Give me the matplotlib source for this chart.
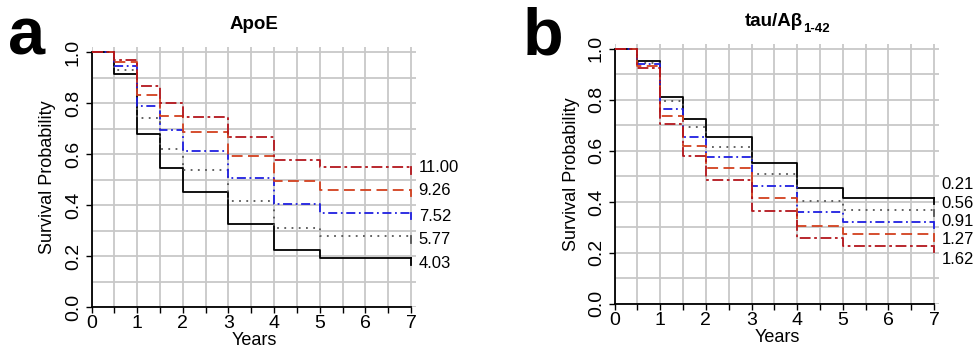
import matplotlib
matplotlib.use("Agg")
import matplotlib.pyplot as plt
from matplotlib.ticker import MultipleLocator

plt.rcParams['font.family'] = ['Liberation Sans', 'DejaVu Sans']

# Data
times = [0, 0.5, 1, 1.5, 2, 3, 4, 5, 7]

apoe_labels = ["4.03", "5.77", "7.52", "9.26", "11.00"]
apoe_curves = [
    [1.0, 0.915, 0.678, 0.545, 0.450, 0.327, 0.225, 0.192],
    [1.0, 0.930, 0.741, 0.621, 0.536, 0.417, 0.310, 0.277],
    [1.0, 0.946, 0.790, 0.693, 0.613, 0.506, 0.405, 0.369],
    [1.0, 0.960, 0.833, 0.750, 0.686, 0.591, 0.493, 0.460],
    [1.0, 0.970, 0.868, 0.800, 0.745, 0.665, 0.578, 0.548],
]
apoe_label_y = [0.172, 0.266, 0.357, 0.459, 0.549]

tau_labels = ["0.21", "0.56", "0.91", "1.27", "1.62"]
tau_curves = [
    [1.0, 0.953, 0.813, 0.725, 0.656, 0.554, 0.454, 0.417],
    [1.0, 0.944, 0.794, 0.695, 0.617, 0.510, 0.404, 0.369],
    [1.0, 0.940, 0.765, 0.656, 0.578, 0.463, 0.359, 0.323],
    [1.0, 0.933, 0.737, 0.620, 0.532, 0.415, 0.307, 0.273],
    [1.0, 0.924, 0.706, 0.580, 0.486, 0.366, 0.260, 0.227],
]
tau_label_y = [0.467, 0.395, 0.322, 0.251, 0.176]

# Styles (lowest to highest risk group)
styles = [
    dict(color='black', linestyle='-'),
    dict(color='#555555', linestyle=(0, (1, 3))),
    dict(color='#1f1fe0', linestyle=(0, (5, 2, 1, 2))),
    dict(color='#d2401e', linestyle=(0, (6, 3))),
    dict(color='#b3161c', linestyle=(0, (6, 2, 1.5, 2))),
]

fig = plt.figure(figsize=(9.76, 3.53), dpi=100)
ax_a = fig.add_axes([0.0938, 0.130, 0.3329, 0.737])
ax_b = fig.add_axes([0.6298, 0.139, 0.3328, 0.737])


def draw_panel(ax, curves, labels, label_y):
    for vals, st in zip(curves, styles):
        ax.step(times, vals + [vals[-1]], where='post', lw=1.3, zorder=3, **st)
        ax.plot([times[-1], times[-1]], [vals[-1], vals[-1] - 0.025],
                color=st['color'], lw=1.3, zorder=3)
    for lab, y in zip(labels, label_y):
        ax.text(7.17, y, lab, fontsize=12, va='center', ha='left')
    ax.set_xlim(0, 7.12)
    ax.set_ylim(0, 1.02)
    ax.xaxis.set_major_locator(MultipleLocator(1))
    ax.xaxis.set_minor_locator(MultipleLocator(0.5))
    ax.yaxis.set_major_locator(MultipleLocator(0.2))
    ax.yaxis.set_minor_locator(MultipleLocator(0.1))
    ax.grid(True, which='both', color='#c8c8c8', lw=1.3, zorder=0)
    ax.set_axisbelow(True)
    for s in ['top', 'right']:
        ax.spines[s].set_visible(False)
    ax.spines['left'].set_bounds(0, 1)
    ax.spines['bottom'].set_bounds(0, 7)
    ax.spines['left'].set_linewidth(1.3)
    ax.spines['bottom'].set_linewidth(1.3)
    ax.tick_params(which='both', direction='out', length=4, width=1)
    ax.tick_params(axis='y', which='minor', length=0)
    ax.tick_params(axis='x', labelsize=14, pad=2)
    ax.tick_params(axis='y', labelsize=14, pad=3)
    ax.set_yticks([0, 0.2, 0.4, 0.6, 0.8, 1.0])
    ax.set_yticklabels(['0.0', '0.2', '0.4', '0.6', '0.8', '1.0'],
                       rotation=90, va='center')
    ax.set_xlabel('Years', fontsize=13, labelpad=0)
    ax.set_ylabel('Survival Probability', fontsize=13, labelpad=6)


draw_panel(ax_a, apoe_curves, apoe_labels, apoe_label_y)
draw_panel(ax_b, tau_curves, tau_labels, tau_label_y)

ax_a.set_title('ApoE', fontsize=13.5, fontweight='bold', pad=13)
fig.text(0.823, 0.94, 'tau/Aβ', fontsize=13.5, fontweight='bold', ha='right', va='center')
fig.text(0.823, 0.918, '1-42', fontsize=9.5, fontweight='bold', ha='left', va='center')

fig.text(0.008, 0.845, 'a', fontsize=48, fontweight='bold', ha='left', va='baseline')
fig.text(0.535, 0.845, 'b', fontsize=48, fontweight='bold', ha='left', va='baseline')

fig.savefig('out.png', dpi=100)
